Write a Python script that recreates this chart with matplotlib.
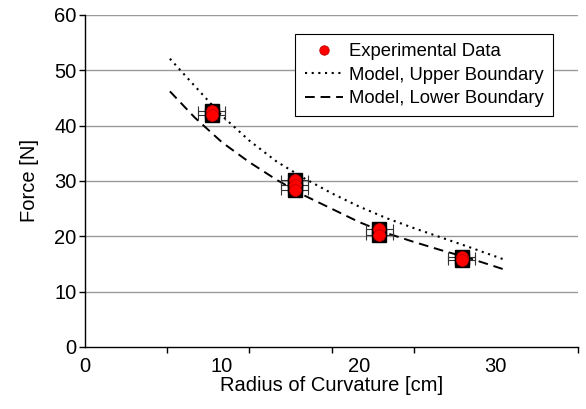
import matplotlib
matplotlib.use("Agg")
import matplotlib.pyplot as plt
from matplotlib.ticker import FixedLocator, NullFormatter

plt.rcParams['font.family'] = ['Liberation Sans', 'DejaVu Sans']

# Experimental data (several measurements at each radius)
exp_radius = [9.25, 9.25, 15.3, 15.3, 15.3, 21.5, 21.5, 27.5, 27.5]
exp_force = [42.6, 41.9, 30.2, 29.3, 28.4, 21.3, 20.3, 16.3, 15.7]
radius_err = [1.0] * len(exp_radius)

# Model boundaries
upper_radius = [6.2, 8, 10, 12, 14, 16, 18, 20, 22, 24, 26, 28, 30.5]
upper_force = [52.1, 47.2, 41.8, 37.3, 33.5, 30.5, 27.8, 25.4, 23.3, 21.5, 19.8, 18.1, 15.9]
lower_radius = [6.2, 8, 10, 12, 14, 16, 18, 20, 22, 24, 26, 28, 30.5]
lower_force = [46.2, 41.5, 37.0, 33.4, 30.2, 27.4, 25.0, 22.6, 20.6, 19.0, 17.5, 16.1, 14.1]

xtick_labels = [0, 10, 20, 30]
ytick_values = [0, 10, 20, 30, 40, 50, 60]

fig = plt.figure(figsize=(5.86, 4.09), dpi=100)
ax = fig.add_axes([85/586, 1 - 347/409, 493/586, 332/409])

ax.set_xlim(0, 36)
ax.set_ylim(0, 60)

for y in ytick_values[1:]:
    ax.axhline(y, color='#9a9a9a', lw=1.0, zorder=0)

ax.errorbar(exp_radius, exp_force, xerr=radius_err, fmt='none', ecolor='#333333',
            elinewidth=0.8, capsize=3.5, capthick=0.8, zorder=2)
ax.plot(exp_radius, exp_force, linestyle='none', marker='s', markersize=9.5,
        color='black', zorder=3)
exp_line, = ax.plot(exp_radius, exp_force, linestyle='none', marker='o', markersize=8.5,
                    markerfacecolor='#ff0000', markeredgecolor='#c00000',
                    markeredgewidth=0.6, zorder=4, label='Experimental Data')

up_line, = ax.plot(upper_radius, upper_force, color='black', lw=1.5,
                   linestyle=(0, (1, 2.2)), label='Model, Upper Boundary', zorder=1)
lo_line, = ax.plot(lower_radius, lower_force, color='black', lw=1.4,
                   linestyle=(0, (5, 3)), label='Model, Lower Boundary', zorder=1)

for s in ['top', 'right']:
    ax.spines[s].set_visible(False)
for s in ['left', 'bottom']:
    ax.spines[s].set_color('black')
    ax.spines[s].set_linewidth(1.0)

ax.set_yticks(ytick_values)
ax.tick_params(axis='y', direction='out', length=4, width=1, labelsize=14.5, pad=2)

ax.set_xticks(xtick_labels)
ax.tick_params(axis='x', which='major', length=0, labelsize=14.5, pad=7)
ax.xaxis.set_minor_locator(FixedLocator([0, 6, 12, 18, 24, 30, 36]))
ax.xaxis.set_minor_formatter(NullFormatter())
ax.tick_params(axis='x', which='minor', direction='out', length=4, width=1)

ax.set_xlabel('Radius of Curvature [cm]', fontsize=14.5, labelpad=0)
ax.set_ylabel('Force [N]', fontsize=14.5, labelpad=11)

leg = ax.legend(handles=[exp_line, up_line, lo_line], loc='upper right',
                bbox_to_anchor=(0.949, 0.943), fontsize=13.3, frameon=True,
                fancybox=False, edgecolor='black', framealpha=1,
                handlelength=2.1, handletextpad=0.3, borderpad=0.5,
                labelspacing=0.35, borderaxespad=0, markerscale=0.8)
leg.get_frame().set_linewidth(0.8)
leg.set_zorder(10)

fig.savefig('out.png', dpi=100)
